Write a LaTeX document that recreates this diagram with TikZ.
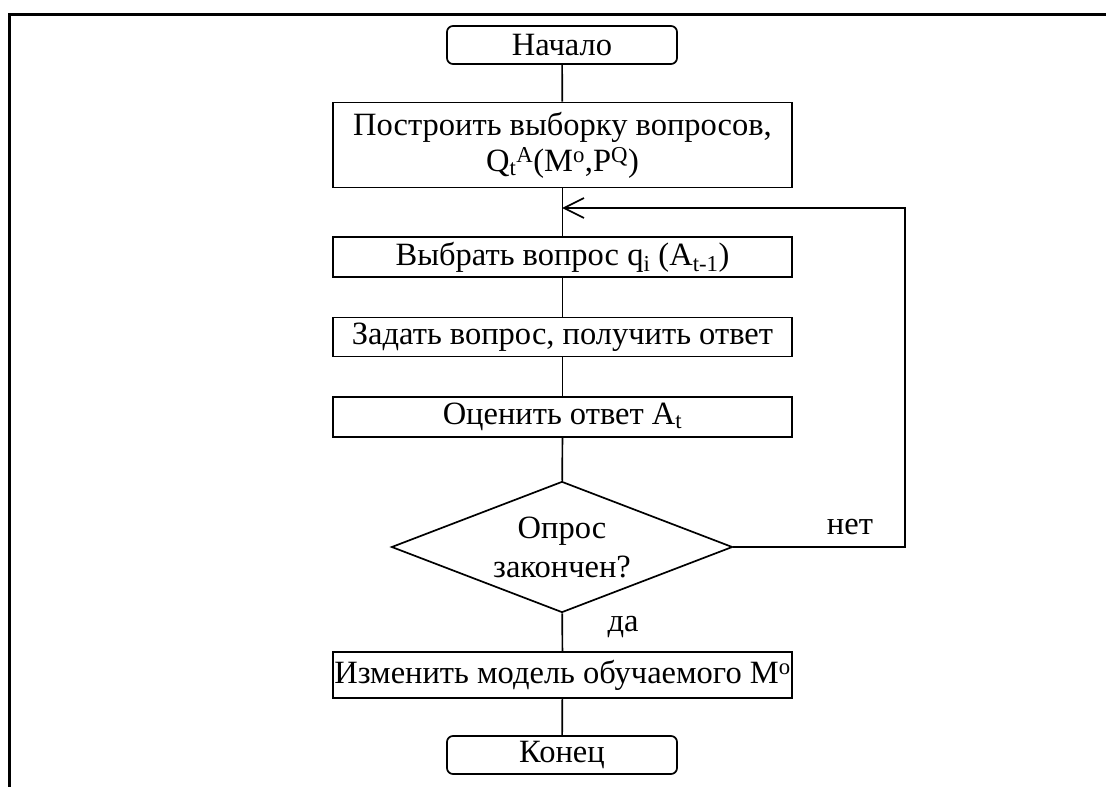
\documentclass[tikz,border=0pt]{standalone}
\usepackage{fontspec}
\setmainfont{Liberation Serif}
\usetikzlibrary{shapes.geometric,arrows.meta}

\begin{document}
\begin{tikzpicture}[x=1pt,y=-1pt,
  every node/.style={font=\fontsize{32.5}{36}\selectfont, inner sep=0pt},
  terminal/.style={draw, line width=1.7pt, rounded corners=6pt,
    minimum width=230pt, minimum height=38pt},
  action/.style={draw, line width=1.7pt, minimum width=459pt},
  decision/.style={draw, line width=1.7pt, diamond, aspect=2.6,
    minimum width=341pt, minimum height=131pt, align=center},
  link/.style={line width=1.7pt},
  label/.style={font=\fontsize{32.5}{36}\selectfont}
]
\useasboundingbox (0,0) rectangle (1106,787);

% frame
\draw[line width=3pt] (1106,14) -- (9,14) -- (9,787);

% flowchart nodes
\node[terminal] (start) at (562,45) {Начало};
\node[action, minimum height=85pt, align=center] (sample) at (562.5,145)
  {Построить выборку вопросов,\\Q\textsubscript{t}\textsuperscript{A}(M\textsuperscript{o},P\textsuperscript{Q})};
\node[action, minimum height=40pt] (choose) at (562.5,257)
  {Выбрать вопрос q\textsubscript{i} (A\textsubscript{t-1})};
\node[action, minimum height=39pt] (ask) at (562.5,337)
  {Задать вопрос, получить ответ};
\node[action, minimum height=40pt] (rate) at (562.5,417)
  {Оценить ответ A\textsubscript{t}};
\node[decision] (done) at (562,547) {Опрос\\[3pt]закончен?};
\node[action, minimum height=46pt] (update) at (562.5,675)
  {Изменить модель обучаемого M\textsuperscript{o}};
\node[terminal] (stop) at (562,755) {Конец};

% connectors
\draw[link] (start) -- (sample);
\draw[link] (sample) -- (choose);
\draw[link] (choose) -- (ask);
\draw[link] (ask) -- (rate);
\draw[link] (rate) -- (done);
\draw[link] (done) -- (update);
\draw[link] (update) -- (stop);

% loop back when the survey is not finished
\coordinate (corner) at (905,208);
\coordinate (entry) at (562,208);
\draw[link, -{Straight Barb[length=20pt,width=20pt,line width=1.7pt]}]
  (done.east) -| (corner) -- (entry);

\node[label] (no) at (850,527) {нет};
\node[label] (yes) at (623,627) {да};
\end{tikzpicture}
\end{document}
